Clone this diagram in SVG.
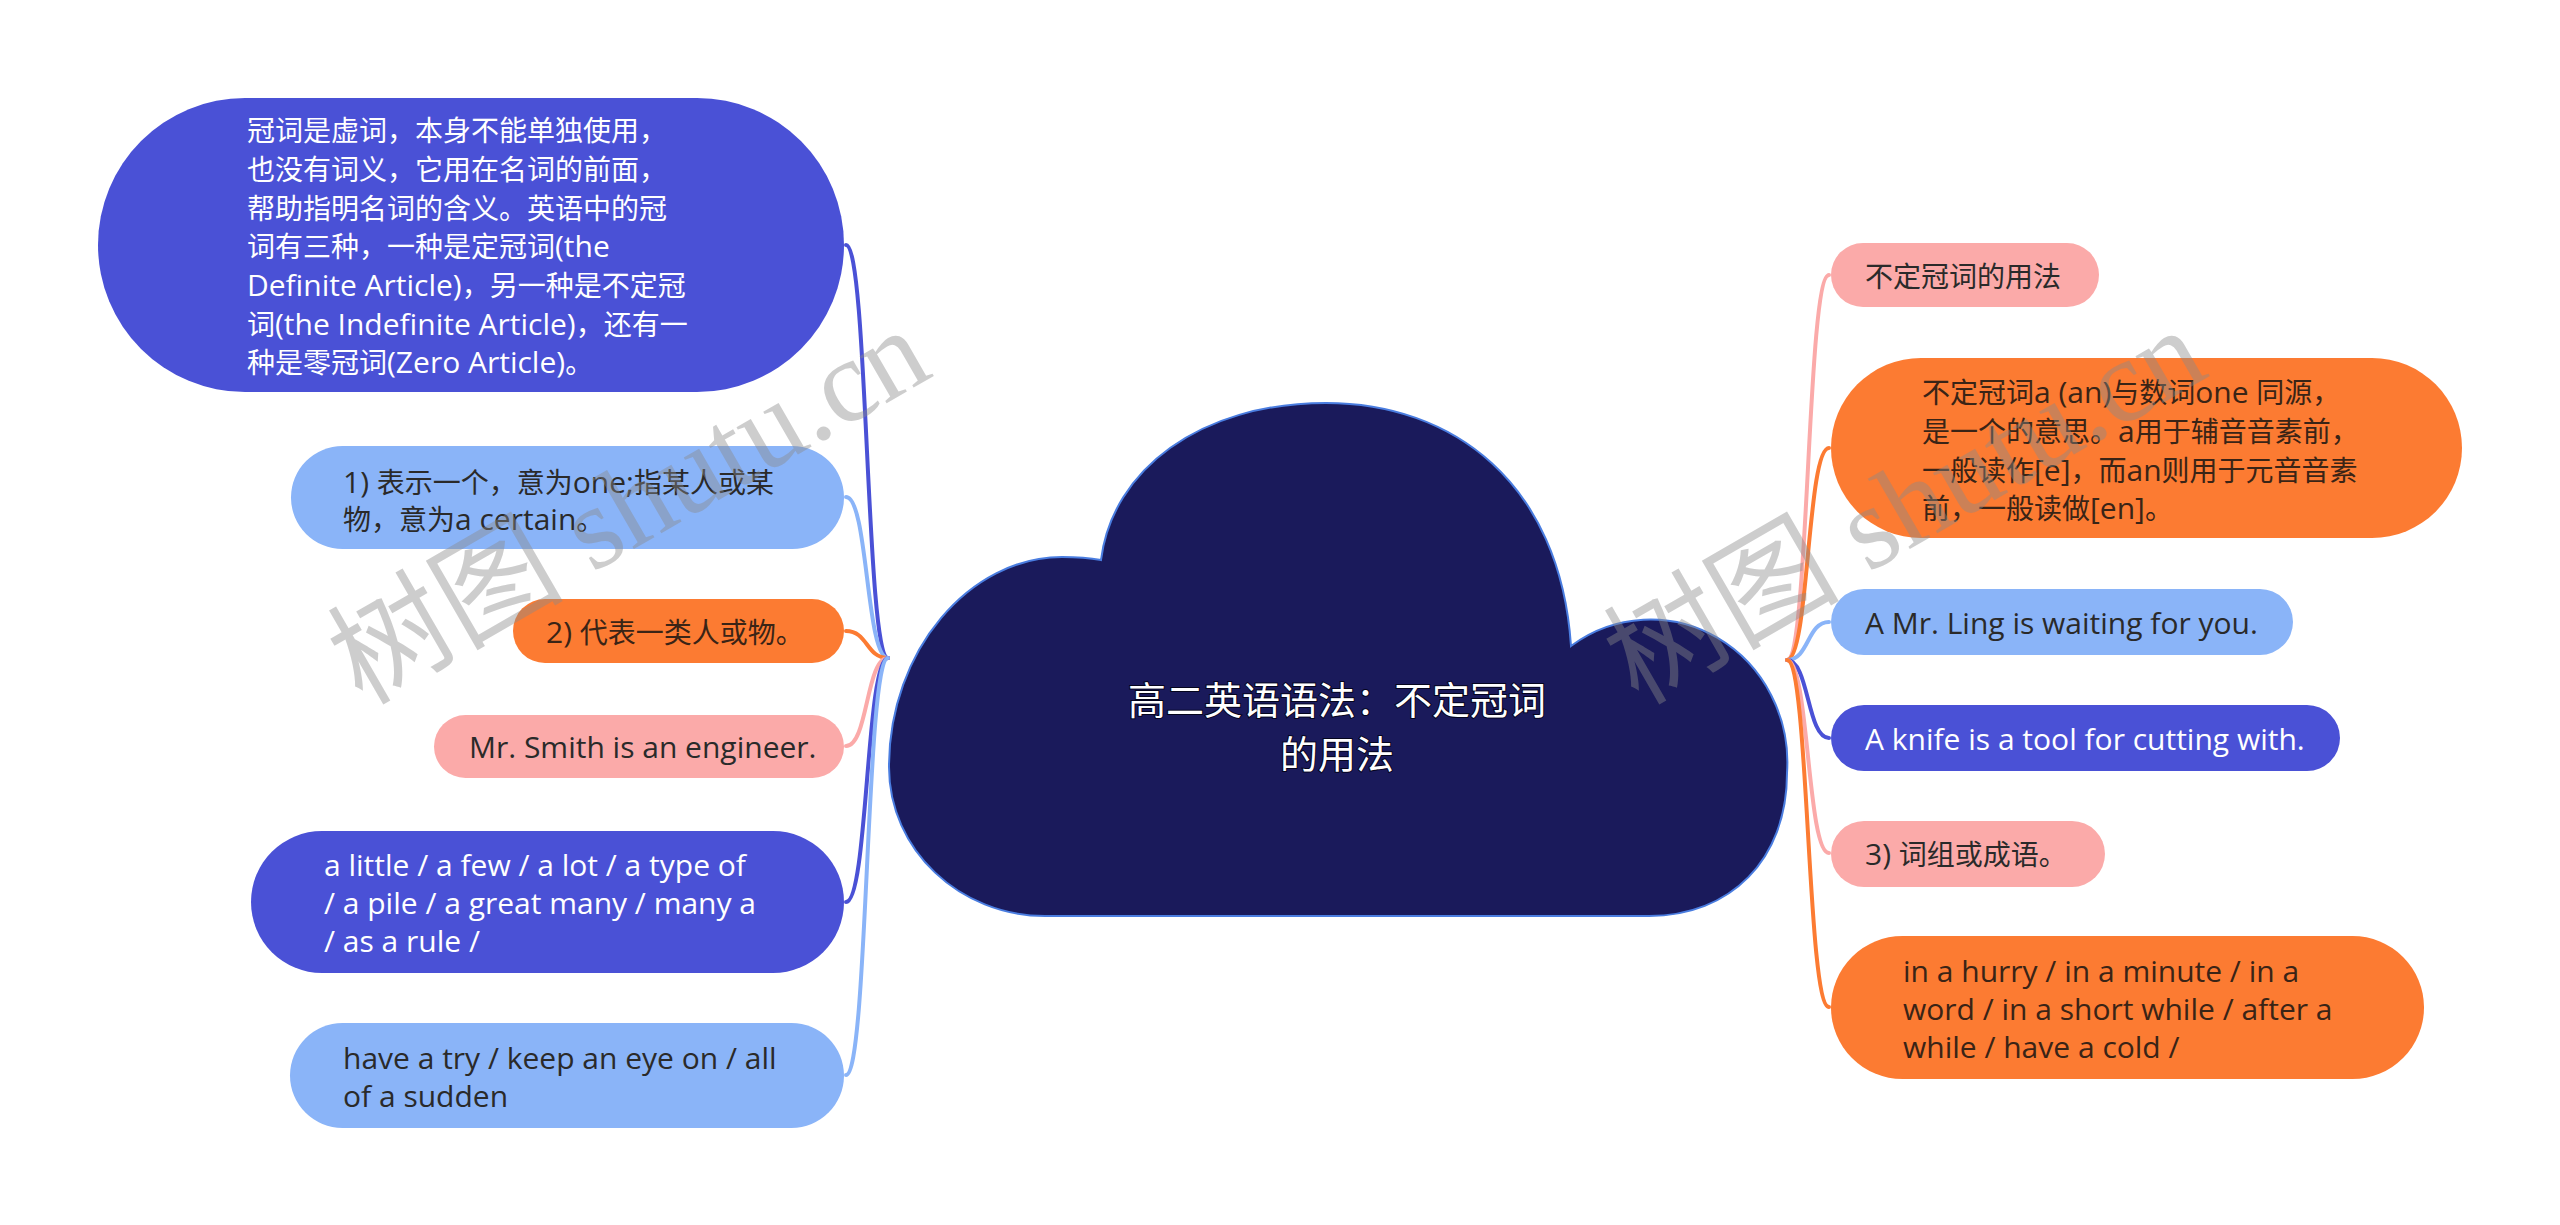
<svg xmlns="http://www.w3.org/2000/svg" width="2560" height="1225" viewBox="0 0 2560 1225">
<style>
text{font-family:"Noto Sans CJK SC","Noto Sans",sans-serif;font-size:28px}
.e{font-family:"Open Sans","Noto Sans CJK SC",sans-serif;font-size:30px}
.dk{fill:#2a2a2a}
.wt{fill:#ffffff}
.ob{fill:#3a2416}
.c{fill:none;stroke-width:4;stroke-linecap:round}
.ct{font-size:38px;fill:#ffffff;stroke:#05051e;stroke-width:2;paint-order:stroke;text-anchor:middle}
.wm{font-family:"Liberation Serif","Noto Sans CJK SC",serif;font-size:118px;fill:#8a8a8a;opacity:0.42}
</style>
<rect width="2560" height="1225" fill="#ffffff"/>
<g id="connectors">
<path class="c" stroke="#4a51d6" d="M888 658C866 658 868 245 846 245"/>
<path class="c" stroke="#8ab4f8" d="M888 658C866 658 868 497 846 497"/>
<path class="c" stroke="#fc7b32" d="M888 658C866 658 868 631 846 631"/>
<path class="c" stroke="#fbaaa9" d="M888 658C866 658 868 746 846 746"/>
<path class="c" stroke="#4a51d6" d="M888 658C866 658 868 902 846 902"/>
<path class="c" stroke="#8ab4f8" d="M888 658C866 658 868 1075 846 1075"/>
<path class="c" stroke="#fbaaa9" d="M1787 660C1809 660 1807 275 1829 275"/>
<path class="c" stroke="#fc7b32" d="M1787 660C1809 660 1807 448 1829 448"/>
<path class="c" stroke="#8ab4f8" d="M1787 660C1809 660 1807 622 1829 622"/>
<path class="c" stroke="#4a51d6" d="M1787 660C1809 660 1807 738 1829 738"/>
<path class="c" stroke="#fbaaa9" d="M1787 660C1809 660 1807 853 1829 853"/>
<path class="c" stroke="#fc7b32" d="M1787 660C1809 660 1807 1007 1829 1007"/>
</g>
<g id="center">
<path d="M1101 560C1112 470 1200 403 1326 403C1452 403 1560 482 1571 646A137 143 0 0 1 1787 773C1787 860 1730 916 1649 916L1045 916C960 916 889 850 889 767C889 650 970 557 1062 557C1078 557 1090 558 1101 560Z" fill="#1a1a5b" stroke="#4a7de0" stroke-width="2"/>
<text class="ct" x="1337" y="714">高二英语语法：不定冠词</text>
<text class="ct" x="1337" y="768">的用法</text>
</g>
<g id="node-l1">
<rect x="98" y="98" width="746" height="294" rx="147" fill="#4a51d6"/>
<text class="wt" x="247" y="141">冠词是虚词，本身不能单独使用，</text>
<text class="wt" x="247" y="180">也没有词义，它用在名词的前面，</text>
<text class="wt" x="247" y="219">帮助指明名词的含义。英语中的冠</text>
<text class="wt" x="247" y="257">词有三种，一种是定冠词<tspan class="e">(the</tspan></text>
<text class="wt" x="247" y="296"><tspan class="e">Definite Article)</tspan>，另一种是不定冠</text>
<text class="wt" x="247" y="335">词<tspan class="e">(the Indefinite Article)</tspan>，还有一</text>
<text class="wt" x="247" y="373">种是零冠词<tspan class="e">(Zero Article)</tspan>。</text>
</g>
<g id="node-l2">
<rect x="291" y="446" width="553" height="103" rx="51.5" fill="#8ab4f8"/>
<text class="dk" x="343" y="493"><tspan class="e">1) </tspan>表示一个，意为<tspan class="e">one;</tspan>指某人或某</text>
<text class="dk" x="343" y="530">物，意为<tspan class="e">a certain</tspan>。</text>
</g>
<g id="node-l3">
<rect x="513" y="599" width="331" height="64" rx="32" fill="#fc7b32"/>
<text class="ob" x="546" y="643"><tspan class="e">2) </tspan>代表一类人或物。</text>
</g>
<g id="node-l4">
<rect x="434" y="715" width="410" height="63" rx="31.5" fill="#fbaaa9"/>
<text class="dk e" x="469" y="758">Mr. Smith is an engineer.</text>
</g>
<g id="node-l5">
<rect x="251" y="831" width="593" height="142" rx="71" fill="#4a51d6"/>
<text class="wt e" x="324" y="876">a little / a few / a lot / a type of</text>
<text class="wt e" x="324" y="914">/ a pile / a great many / many a</text>
<text class="wt e" x="324" y="952">/ as a rule /</text>
</g>
<g id="node-l6">
<rect x="290" y="1023" width="554" height="105" rx="52.5" fill="#8ab4f8"/>
<text class="dk e" x="343" y="1069">have a try / keep an eye on / all</text>
<text class="dk e" x="343" y="1107">of a sudden</text>
</g>
<g id="node-r1">
<rect x="1831" y="243" width="268" height="64" rx="32" fill="#fbaaa9"/>
<text class="dk" x="1865" y="287">不定冠词的用法</text>
</g>
<g id="node-r2">
<rect x="1831" y="358" width="631" height="180" rx="90" fill="#fc7b32"/>
<text class="ob" x="1922" y="403">不定冠词<tspan class="e">a (an)</tspan>与数词<tspan class="e">one </tspan>同源，</text>
<text class="ob" x="1922" y="442">是一个的意思。<tspan class="e">a</tspan>用于辅音音素前，</text>
<text class="ob" x="1922" y="481">一般读作<tspan class="e">[e]</tspan>，而<tspan class="e">an</tspan>则用于元音音素</text>
<text class="ob" x="1922" y="519">前，一般读做<tspan class="e">[en]</tspan>。</text>
</g>
<g id="node-r3">
<rect x="1831" y="589" width="462" height="66" rx="33" fill="#8ab4f8"/>
<text class="dk e" x="1865" y="634">A Mr. Ling is waiting for you.</text>
</g>
<g id="node-r4">
<rect x="1831" y="705" width="509" height="66" rx="33" fill="#4a51d6"/>
<text class="wt e" x="1865" y="750">A knife is a tool for cutting with.</text>
</g>
<g id="node-r5">
<rect x="1831" y="821" width="274" height="66" rx="33" fill="#fbaaa9"/>
<text class="dk" x="1865" y="865"><tspan class="e">3) </tspan>词组或成语。</text>
</g>
<g id="node-r6">
<rect x="1831" y="936" width="593" height="143" rx="71.5" fill="#fc7b32"/>
<text class="ob e" x="1903" y="982">in a hurry / in a minute / in a</text>
<text class="ob e" x="1903" y="1020">word / in a short while / after a</text>
<text class="ob e" x="1903" y="1058">while / have a cold /</text>
</g>
<g id="watermarks">
<text class="wm" transform="translate(362 706) rotate(-30)">树图 shutu.cn</text>
<text class="wm" transform="translate(1638 706) rotate(-30)">树图 shutu.cn</text>
</g>
</svg>
